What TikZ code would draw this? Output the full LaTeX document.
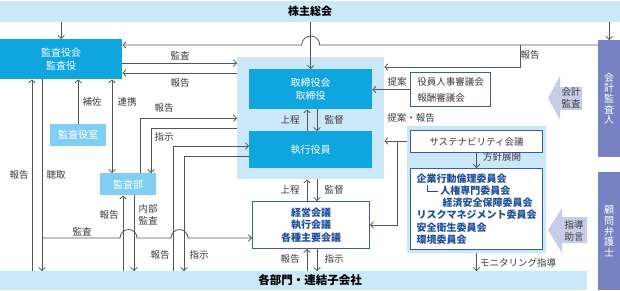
\documentclass[tikz,border=0pt]{standalone}
\usepackage{fontspec}
\usetikzlibrary{arrows.meta,positioning}
\newfontfamily\jpfont{Noto Sans CJK JP}
\definecolor{band}{HTML}{CBE8F8}
\definecolor{board}{HTML}{0FA6E0}
\definecolor{staff}{HTML}{80CEF2}
\definecolor{outside}{HTML}{7682C2}
\definecolor{hint}{HTML}{C9CCE8}
\definecolor{frame}{HTML}{3C5CAB}
\definecolor{ink}{HTML}{1E4F9F}
\definecolor{linegray}{HTML}{555555}
\definecolor{labelgray}{HTML}{3A3A3A}

\begin{document}
\begin{tikzpicture}[x=1pt, y=1pt, font=\jpfont\fontsize{9.5}{11}\selectfont,
  >={Straight Barb[length=3pt,width=6.5pt]},
  wire/.style={draw=linegray, line width=0.8pt, ->},
  box/.style={anchor=north west, inner sep=0pt, align=center},
  solid box/.style={box, fill=board, text=white, font=\jpfont\fontsize{10}{13}\selectfont},
  pale box/.style={box, fill=staff, text=white, font=\jpfont\fontsize{10}{13}\selectfont},
  frame box/.style={box, draw=frame, line width=1pt, fill=white},
  side box/.style={box, fill=outside, text=white, font=\jpfont\fontsize{10}{10.6}\selectfont},
  lbl/.style={text=labelgray, inner sep=0pt, align=center}]
  \useasboundingbox (0,0) rectangle (620,-290);

  % bands and regions
  \node[box, fill=band, minimum width=620pt, minimum height=21pt,
    font=\jpfont\bfseries\fontsize{11}{13}\selectfont] (soukai) at (0,-1) {株主総会};
  \node[box, fill=band, minimum width=587pt, minimum height=19pt] (bumon) at (0,-271) {};
  \node[font=\jpfont\bfseries\fontsize{11.5}{13}\selectfont, inner sep=0pt] (bumontxt) at (310,-280.5) {各部門・連結子会社};
  \node[box, fill=band, minimum width=147pt, minimum height=122pt] (brd) at (237,-57) {};
  \node[box, fill=band, minimum width=139pt, minimum height=127pt] (susbg) at (407,-126) {};

  % boxes
  \node[solid box, minimum width=122pt, minimum height=40pt] (kansa) at (0,-39) {監査役会\\監査役};
  \node[pale box, minimum width=56pt, minimum height=22pt] (shitsu) at (50,-124) {監査役室};
  \node[pale box, minimum width=56pt, minimum height=22pt] (kbu) at (100,-173) {監査部};
  \node[solid box, minimum width=123pt, minimum height=40pt] (tori) at (249,-69) {取締役会\\取締役};
  \node[solid box, minimum width=123pt, minimum height=37pt] (shikko) at (249,-131) {執行役員};
  \node[frame box, minimum width=117pt, minimum height=47pt, text=ink,
    font=\jpfont\bfseries\fontsize{10}{12.5}\selectfont] (keiei) at (252,-201) {経営会議\\執行会議\\各種主要会議};
  \node[frame box, minimum width=80pt, minimum height=34pt, align=left, text=labelgray,
    font=\jpfont\fontsize{9.5}{16}\selectfont] (jinji) at (410,-72) {役員人事審議会\\報酬審議会};
  \node[frame box, minimum width=132pt, minimum height=22pt, text=labelgray] (sus) at (410,-130) {サステナビリティ会議};
  \node[frame box, minimum width=132pt, minimum height=81pt, align=left, text=ink,
    font=\jpfont\bfseries\fontsize{10}{12.2}\selectfont] (iin) at (410,-168)
    {企業行動倫理委員会\\\hspace*{10pt}\rule[3pt]{0.8pt}{6.5pt}\rule[3pt]{11pt}{0.8pt}\hspace{2pt}人権専門委員会\\\hspace*{26pt}経済安全保障委員会\\リスクマネジメント委員会\\安全衛生委員会\\環境委員会};
  \node[side box, minimum width=22pt, minimum height=117pt] (kaikei) at (598,-40) {会\\計\\監\\査\\人};
  \node[side box, minimum width=22pt, minimum height=118pt] (komon) at (598,-172) {顧\\問\\弁\\護\\士};

  % block arrows
  \fill[hint] (548,-98) -- (560,-76) -- (560,-87) -- (582,-87) -- (582,-110) -- (560,-110) -- (560,-120) -- cycle;
  \node[lbl, font=\jpfont\fontsize{9.5}{11.5}\selectfont] (kansatxt) at (571,-98) {会計\\監査};
  \fill[hint] (548,-230) -- (562,-208) -- (562,-217) -- (587,-217) -- (587,-243) -- (562,-243) -- (562,-253) -- cycle;
  \node[lbl, font=\jpfont\fontsize{9.5}{12}\selectfont] (jogentxt) at (574,-231) {指導\\助言};

  % from the shareholders
  \draw[wire] (kansa.north |- soukai.south) -- (kansa.north);
  \draw[wire] (kaikei.north |- soukai.south) -- (kaikei.north);
  \draw[wire] (tori.north |- soukai.south) -- (tori.north);
  \coordinate (kk) at (520,-45);
  \draw[wire] (kaikei.west |- kk) -- ([xshift=9pt]tori.north |- kk)
    arc[start angle=0, end angle=180, radius=9pt] -- (kansa.east |- kk);
  \draw[wire] (kk) |- (brd.east |- 0,-67);

  % audit side
  \draw[wire] (kansa.east |- 0,-63) -- (brd.west |- 0,-63);
  \draw[wire] (brd.west |- 0,-73) -- (kansa.east |- 0,-73);
  \draw[wire] (shitsu.north) -- (shitsu.north |- kansa.south);
  \draw[wire, <->] (112,0 |- kansa.south) -- (112,0 |- kbu.north);
  \draw[wire] (140,0 |- kbu.north) |- (brd.west);
  \draw[wire] (brd.west |- 0,-128) -| (151,0 |- kbu.north);
  \draw[wire] (32,0 |- bumon.north) -- (32,0 |- kansa.south);
  \draw[wire] (42,0 |- kansa.south) -- (42,0 |- bumon.north);
  \draw[wire] (123,0 |- bumon.north) -- (123,0 |- kbu.south);
  \draw[wire] (134,0 |- kbu.south) -- (134,0 |- bumon.north);
  \coordinate (ch) at (42,-238);
  \draw[wire] (ch) -- (120,-238) arc[start angle=180, end angle=0, radius=8.5pt]
    -- (171,-238) arc[start angle=180, end angle=0, radius=8.5pt] -- (keiei.west |- ch);
  \draw[wire] (173,0 |- bumon.north) |- (shikko.west |- 0,-146);
  \draw[wire] (shikko.west |- 0,-156) -| (184,0 |- bumon.north);

  % executive line
  \draw[wire] (307,0 |- shikko.north) -- (307,0 |- tori.south);
  \draw[wire] (317,0 |- tori.south) -- (317,0 |- shikko.north);
  \draw[wire] (307,0 |- keiei.north) -- (307,0 |- brd.south);
  \draw[wire] (317,0 |- brd.south) -- (317,0 |- keiei.north);
  \draw[wire] (307,0 |- bumon.north) -- (307,0 |- keiei.south);
  \draw[wire] (317,0 |- keiei.south) -- (317,0 |- bumon.north);

  % committees
  \draw[wire] (jinji.west) -- (tori.east |- jinji.west);
  \coordinate (tk) at (397,-141);
  \draw[wire] (susbg.west |- tk) -- (brd.east |- tk);
  \draw[wire] (tk) |- (keiei.east |- 0,-225);
  \draw[wire] (sus.south) -- (iin.north);
  \draw[wire] (susbg.south -| sus) -- (bumon.north -| sus);

  % labels
  \node[lbl] (l1) at (180,-56) {監査};
  \node[lbl] (l2) at (180,-83) {報告};
  \node[lbl] (l3) at (92,-102) {補佐};
  \node[lbl] (l4) at (127,-102) {連携};
  \node[lbl] (l5) at (164,-108) {報告};
  \node[lbl] (l6) at (164,-137) {指示};
  \node[lbl] (l7) at (19,-175) {報告};
  \node[lbl] (l8) at (56,-175) {聴取};
  \node[lbl] (l9) at (109,-215) {報告};
  \node[lbl, font=\jpfont\fontsize{9.5}{11.5}\selectfont] (l10) at (148,-215) {内部\\監査};
  \node[lbl] (l11) at (82,-232) {監査};
  \node[lbl] (l12) at (160,-255) {報告};
  \node[lbl] (l13) at (199,-255) {指示};
  \node[lbl] (l14) at (290,-120) {上程};
  \node[lbl] (l15) at (334,-120) {監督};
  \node[lbl] (l16) at (290,-190) {上程};
  \node[lbl] (l17) at (334,-190) {監督};
  \node[lbl] (l18) at (290,-259) {報告};
  \node[lbl] (l19) at (334,-259) {指示};
  \node[lbl] (l20) at (530,-55) {報告};
  \node[lbl] (l21) at (397,-82) {提案};
  \node[lbl] (l22) at (411,-118) {提案・報告};
  \node[lbl] (l23) at (502,-157) {方針展開};
  \node[lbl] (l24) at (518,-263) {モニタリング指導};
\end{tikzpicture}
\end{document}
